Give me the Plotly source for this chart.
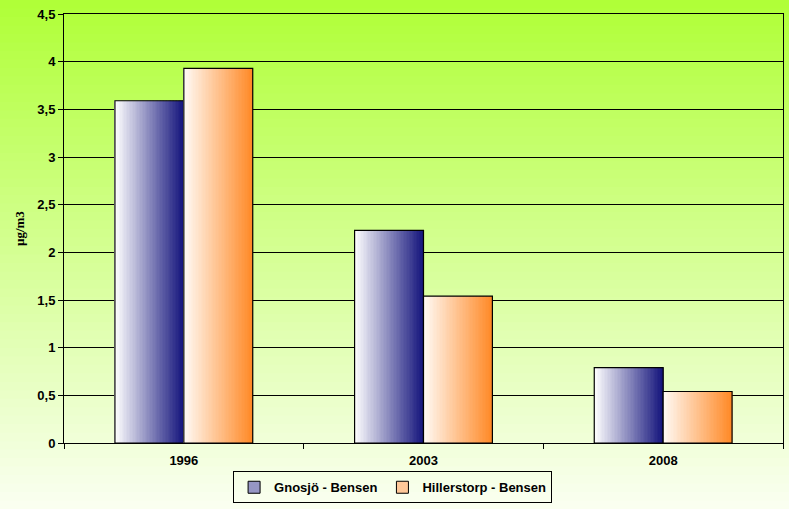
import plotly.graph_objects as go

years = ['1996', '2003', '2008']
gnosjo = [3.59, 2.23, 0.79]
hillerstorp = [3.93, 1.54, 0.54]
y_ticks = [0, 0.5, 1, 1.5, 2, 2.5, 3, 3.5, 4, 4.5]

BAR_W = 0.2875
N_SLICES = 48


def mix(c1, c2, t):
    return 'rgb(%d,%d,%d)' % tuple(round(a + (b - a) * t) for a, b in zip(c1, c2))


def gradient_bar(fig, values, name, start, end, offset):
    # horizontal gradient made of thin slices, then an outline on top
    sw = BAR_W / N_SLICES
    for i in range(N_SLICES):
        fig.add_trace(go.Bar(
            x=years, y=values, width=sw * 1.2, offset=offset + i * sw,
            marker=dict(color=mix(start, end, i / (N_SLICES - 1)), line=dict(width=0)),
            showlegend=False, hoverinfo='skip',
        ))
    fig.add_trace(go.Bar(
        x=years, y=values, width=BAR_W, offset=offset, name=name,
        marker=dict(color='rgba(0,0,0,0)', line=dict(color='black', width=1.2)),
        showlegend=False,
    ))
    # legend-only entry
    fig.add_trace(go.Bar(
        x=[None], y=[None], name=name,
        marker=dict(color=mix(start, end, 0.45), line=dict(color='black', width=1)),
    ))


fig = go.Figure()
gradient_bar(fig, gnosjo, 'Gnosjö - Bensen', (255, 255, 255), (22, 22, 125), -BAR_W)
gradient_bar(fig, hillerstorp, 'Hillerstorp - Bensen', (255, 250, 245), (255, 138, 40), 0)

# background gradient (green to pale) across the whole picture
top, bottom = (176, 255, 56), (250, 255, 240)
n_bg = 60
y0, y1 = -66 / 429, 1 + 14 / 429
for i in range(n_bg):
    a = y1 - (y1 - y0) * i / n_bg
    b = y1 - (y1 - y0) * (i + 1) / n_bg
    fig.add_shape(type='rect', xref='paper', yref='paper', x0=-0.1, x1=1.01,
                  y0=b - 0.002, y1=a, fillcolor=mix(top, bottom, i / (n_bg - 1)),
                  line=dict(width=0), layer='below')

fig.add_annotation(text='µg/m3', xref='paper', yref='paper', x=-0.0626, y=0.501,
                   xanchor='center', yanchor='middle', textangle=-90, showarrow=False,
                   font=dict(family='Liberation Serif, Times New Roman', size=13,
                             color='black', weight='bold'))

fig.update_layout(
    width=789, height=509,
    margin=dict(l=64, r=6, t=14, b=66, autoexpand=False),
    barmode='overlay',
    separators=', ',
    paper_bgcolor='rgba(0,0,0,0)', plot_bgcolor='rgba(0,0,0,0)',
    font=dict(family='Liberation Sans, Arial', color='black'),
    legend=dict(orientation='h', x=0.457, xanchor='center', y=-0.066, yanchor='top',
                bordercolor='black', borderwidth=1, bgcolor='rgba(255,255,255,0)',
                font=dict(size=13, weight='bold'), itemwidth=30, traceorder='normal'),
)
fig.update_yaxes(range=[0, 4.5], tickvals=y_ticks, showgrid=True, gridcolor='black',
                 gridwidth=1, showline=True, linecolor='black', mirror=True,
                 ticks='outside', ticklen=5, tickcolor='black', automargin=False,
                 tickfont=dict(size=13, weight='bold'), zeroline=False)
fig.update_xaxes(showline=True, linecolor='black', mirror=True, ticks='outside',
                 tickson='boundaries', ticklen=5, tickcolor='black', automargin=False,
                 ticklabelstandoff=5, tickfont=dict(size=13, weight='bold'))

fig.write_html('out.html', config={'displayModeBar': False},
               post_script="document.body.style.margin='0';"
                           "document.body.style.overflow='hidden';")
